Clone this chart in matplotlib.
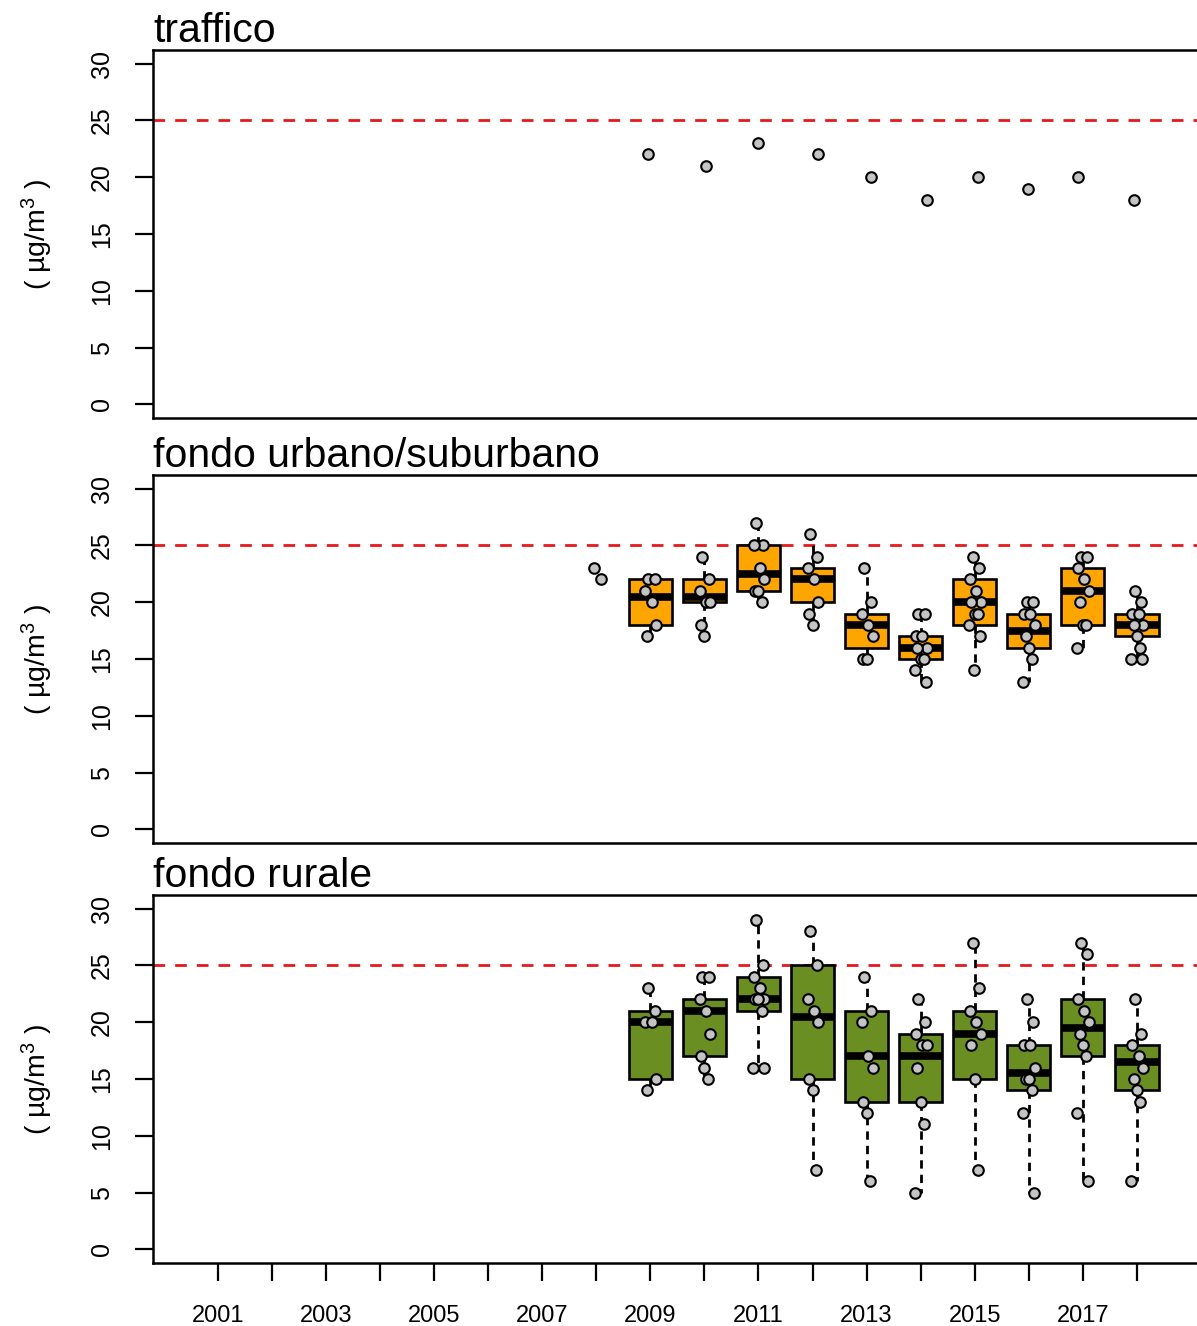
import matplotlib
matplotlib.use("Agg")
import matplotlib.pyplot as plt

plt.rcParams['font.family'] = ['Liberation Sans', 'DejaVu Sans']
plt.rcParams['mathtext.fontset'] = 'custom'
plt.rcParams['mathtext.rm'] = 'Liberation Sans'
plt.rcParams['mathtext.it'] = 'Liberation Sans'

# --- data (µg/m3) ---
x_ticks = list(range(2001, 2019))
limit_value = 25

traffic_years = [2009, 2010, 2011, 2012, 2013, 2014, 2015, 2016, 2017, 2018]
traffic_values = [22, 21, 23, 22, 20, 18, 20, 19, 20, 18]

urban_point_years = [2008, 2009, 2010, 2011, 2012, 2013, 2014, 2015, 2016, 2017, 2018]
urban_points = [
    [23, 22],
    [22, 22, 21, 20, 18, 17],
    [24, 22, 21, 20, 20, 18, 17],
    [27, 25, 25, 23, 22, 21, 21, 20],
    [26, 24, 23, 22, 20, 19, 18],
    [23, 20, 19, 18, 17, 15, 15],
    [19, 19, 17, 17, 16, 16, 15, 15, 14, 13],
    [24, 23, 22, 21, 20, 20, 19, 19, 18, 17, 14],
    [20, 20, 19, 19, 18, 17, 16, 15, 13],
    [24, 24, 23, 22, 21, 20, 18, 18, 16],
    [21, 20, 19, 19, 18, 18, 17, 16, 15, 15],
]
urban_box_years = [2009, 2010, 2011, 2012, 2013, 2014, 2015, 2016, 2017, 2018]
urban_q1 = [18, 20, 21, 20, 16, 15, 18, 16, 18, 17]
urban_med = [20.5, 20.5, 22.5, 22, 18, 16, 20, 17.5, 21, 18]
urban_q3 = [22, 22, 25, 23, 19, 17, 22, 19, 23, 19]

rural_point_years = [2009, 2010, 2011, 2012, 2013, 2014, 2015, 2016, 2017, 2018]
rural_points = [
    [23, 21, 20, 20, 15, 14],
    [24, 24, 22, 21, 19, 17, 16, 15],
    [29, 25, 24, 23, 22, 22, 22, 21, 16, 16],
    [28, 25, 22, 21, 20, 15, 14, 7],
    [24, 21, 20, 17, 16, 13, 12, 6],
    [22, 20, 19, 18, 18, 16, 13, 11, 5],
    [27, 23, 21, 20, 19, 18, 15, 7],
    [22, 20, 18, 18, 16, 15, 15, 14, 12, 5],
    [27, 26, 22, 21, 20, 19, 18, 17, 12, 6],
    [22, 19, 18, 17, 16, 15, 14, 13, 6],
]
rural_box_years = [2009, 2010, 2011, 2012, 2013, 2014, 2015, 2016, 2017, 2018]
rural_q1 = [15, 17, 21, 15, 13, 13, 15, 14, 17, 14]
rural_med = [20, 21, 22, 20.5, 17, 17, 19, 15.5, 19.5, 16.5]
rural_q3 = [21, 22, 24, 25, 21, 19, 21, 18, 22, 18]

# small fixed horizontal spread for the dots (like R jitter)
JIT = [-0.04, 0.08, -0.09, 0.03, 0.11, -0.06, 0.0, 0.06, -0.11, 0.1, -0.02]

W, H = 1197, 1326
fig = plt.figure(figsize=(W / 100, H / 100), dpi=100)

xmin, xmax = 1999.8, 2019.6
px_per_year = 54.06
ax_w = (xmax - xmin) * px_per_year
panel_tops = [50, 475, 895]
panel_h = 368

DOT = dict(s=58, facecolor="#C4C4C4", edgecolor="black", linewidth=1.5, zorder=5)


def draw_panel(ax, title):
    ax.axhline(limit_value, color="#E41A1C", lw=2, dashes=(4.2, 3.6), zorder=1)
    ax.set_xlim(xmin, xmax)
    ax.set_ylim(-1.2, 31.2)
    ax.set_yticks(range(0, 31, 5))
    ax.set_xticks(x_ticks)
    ax.set_xticklabels([str(y) if y % 2 == 1 else "" for y in x_ticks])
    ax.tick_params(axis="y", length=13, width=1.6, labelsize=18, pad=15,
                   labelrotation=90)
    for lab in ax.get_yticklabels():
        lab.set_va("center")
    ax.tick_params(axis="x", length=13, width=1.6, labelsize=17, pad=17)
    for s in ax.spines.values():
        s.set_linewidth(1.8)
    ax.set_title(title, loc="left", fontsize=29.5, pad=4)
    ax.set_ylabel(r"( µg/m$^{3}$ )", fontsize=20.5, va="center")
    ax.yaxis.set_label_coords(-(153 - 37) / ax_w, 0.5)


def draw_boxes(ax, years, q1, med, q3, point_years, points, color):
    stats = []
    for y, a, m, b in zip(years, q1, med, q3):
        pts = points[point_years.index(y)]
        stats.append(dict(q1=a, med=m, q3=b, whislo=min(pts), whishi=max(pts), fliers=[]))
    ax.bxp(stats, positions=years, widths=0.8, patch_artist=True, showcaps=False,
           showfliers=False, manage_ticks=False,
           boxprops=dict(facecolor=color, edgecolor="black", linewidth=1.9),
           medianprops=dict(color="black", linewidth=5.5, solid_capstyle="butt"),
           whiskerprops=dict(color="black", linewidth=2, linestyle=(0, (3, 2.2))))


def draw_points(ax, point_years, points):
    for y, pts in zip(point_years, points):
        xs = [y + JIT[i % len(JIT)] for i in range(len(pts))]
        ax.scatter(xs, pts, **DOT)


axes = []
for top in panel_tops:
    bottom = 1 - (top + panel_h) / H
    axes.append(fig.add_axes([153 / W, bottom, ax_w / W, panel_h / H]))

ax1, ax2, ax3 = axes

draw_panel(ax1, "traffico")
traffic_x = [y + JIT[(i * 3) % len(JIT)] for i, y in enumerate(traffic_years)]
ax1.scatter(traffic_x, traffic_values, **DOT)
ax1.tick_params(axis="x", labelbottom=False, length=0)

draw_panel(ax2, "fondo urbano/suburbano")
draw_boxes(ax2, urban_box_years, urban_q1, urban_med, urban_q3,
           urban_point_years, urban_points, "#FFA500")
draw_points(ax2, urban_point_years, urban_points)
ax2.tick_params(axis="x", labelbottom=False, length=0)

draw_panel(ax3, "fondo rurale")
draw_boxes(ax3, rural_box_years, rural_q1, rural_med, rural_q3,
           rural_point_years, rural_points, "#6B8E23")
draw_points(ax3, rural_point_years, rural_points)

fig.savefig("out.png", dpi=100)
